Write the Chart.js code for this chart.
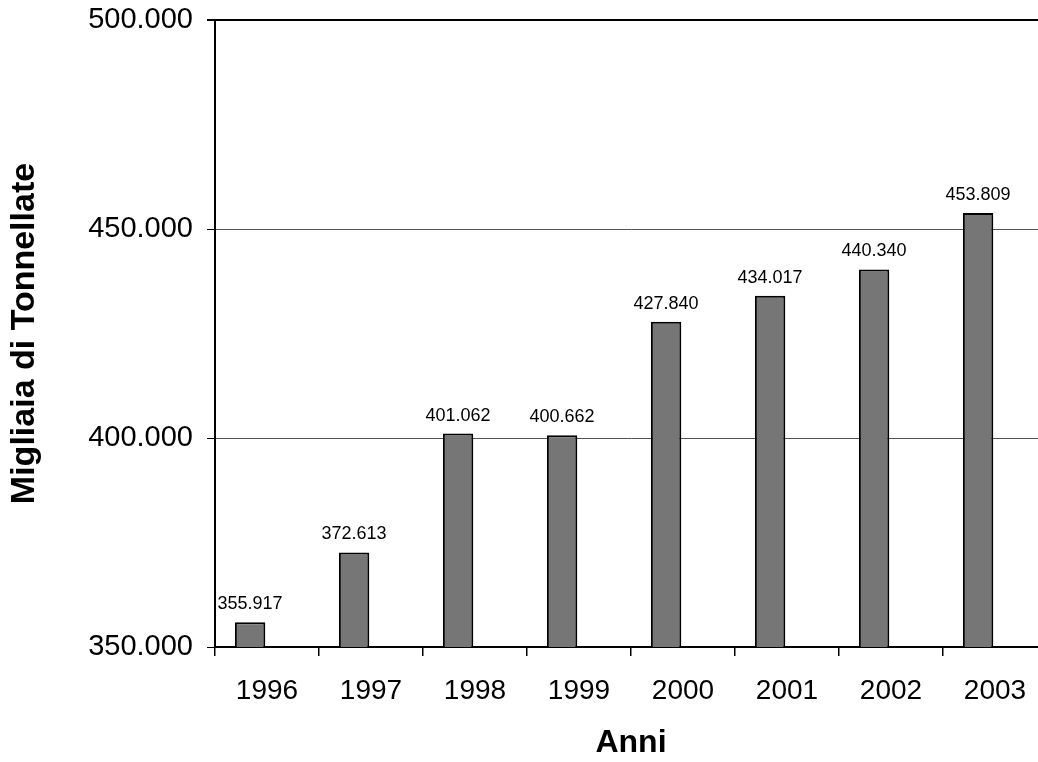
<!DOCTYPE html>
<html>
<head>
<meta charset="utf-8">
<script src="https://cdn.jsdelivr.net/npm/chart.js@4.4.1/dist/chart.umd.min.js"></script>
<style>
  html, body { margin: 0; padding: 0; background: #fff; overflow: hidden; }
  #wrap { width: 1060px; height: 762px; }
</style>
</head>
<body>
<div id="wrap"><canvas id="grafico"></canvas></div>
<script>
// Dati (migliaia di tonnellate)
const anni = ["1996", "1997", "1998", "1999", "2000", "2001", "2002", "2003"];
const valori = [355917, 372613, 401062, 400662, 427840, 434017, 440340, 453809];
const yMin = 350000;
const yMax = 500000;
const yStep = 50000;

const FONT = "'Liberation Sans', Arial, sans-serif";

// formato italiano: 355917 -> "355.917"
function formatta(v) {
  return String(Math.round(v)).replace(/\B(?=(\d{3})+(?!\d))/g, ".");
}

// etichette sopra le barre
const etichetteBarre = {
  id: "etichetteBarre",
  afterDatasetsDraw(chart) {
    const ctx = chart.ctx;
    const meta = chart.getDatasetMeta(0);
    ctx.save();
    ctx.font = "18px " + FONT;
    ctx.fillStyle = "#000";
    ctx.textAlign = "center";
    ctx.textBaseline = "bottom";
    meta.data.forEach(function (bar, i) {
      ctx.fillText(formatta(valori[i]), bar.x, bar.y - 9);
    });
    ctx.restore();
  },
};

new Chart(document.getElementById("grafico").getContext("2d"), {
  type: "bar",
  data: {
    labels: anni,
    datasets: [
      {
        data: valori,
        backgroundColor: "#767676",
        borderColor: "#000",
        borderWidth: 2,
        borderSkipped: false,
        categoryPercentage: 0.65,
        barPercentage: 0.9,
      },
      {
        // serie vuota: sposta le barre a sinistra come nell'originale
        data: anni.map(function () { return null; }),
        categoryPercentage: 0.65,
        barPercentage: 0.9,
      },
    ],
  },
  plugins: [etichetteBarre],
  options: {
    responsive: true,
    maintainAspectRatio: false,
    animation: false,
    layout: { padding: { top: 20, right: 13, left: 0, bottom: 0 } },
    plugins: {
      legend: { display: false },
      tooltip: { enabled: false },
    },
    scales: {
      x: {
        afterFit: function (scale) { scale.height = 115; },
        offset: true,
        grid: {
          offset: true,
          drawOnChartArea: false,
          color: "#000",
          tickLength: 9,
          lineWidth: 1.5,
        },
        border: { color: "#000", width: 2 },
        ticks: {
          color: "#000",
          padding: 18,
          font: { family: FONT, size: 28 },
          maxRotation: 0,
        },
        title: {
          display: true,
          text: "Anni",
          color: "#000",
          font: { family: FONT, size: 32, weight: "bold" },
          padding: { top: 0, bottom: 0 },
        },
      },
      y: {
        min: yMin,
        max: yMax,
        afterFit: function (scale) {
          scale.width = 215;
          scale.paddingTop = 0;
          scale.paddingBottom = 0;
        },
        grid: {
          color: function (c) { return c.tick && c.tick.value === yMax ? "#000" : "#555"; },
          lineWidth: function (c) { return c.tick && c.tick.value === yMax ? 2 : 1; },
          tickColor: "#000",
          tickLength: 8,
        },
        border: { color: "#000", width: 2 },
        ticks: {
          stepSize: yStep,
          color: "#000",
          padding: 14,
          font: { family: FONT, size: 29 },
          callback: function (v) { return formatta(v); },
        },
        title: {
          display: true,
          text: "Migliaia di Tonnellate",
          color: "#000",
          font: { family: FONT, size: 34, weight: "bold" },
          padding: { top: 4, bottom: 0 },
        },
      },
    },
  },
});
</script>
</body>
</html>
